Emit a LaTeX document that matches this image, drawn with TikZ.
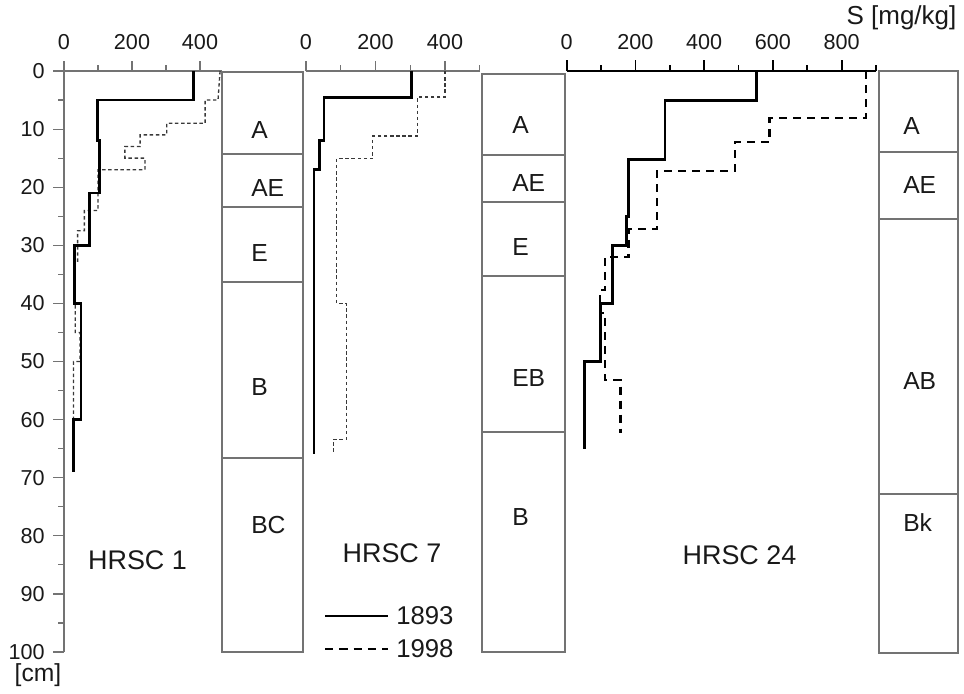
\documentclass[tikz,border=0pt]{standalone}
\usepackage{fontspec}
\setmainfont{Liberation Sans}
\definecolor{boxgrey}{gray}{0.45}
\definecolor{scalegrey}{gray}{0.45}
\definecolor{inkblack}{gray}{0.1}
\def\dep{5.81}
\tikzstyle{horizon}=[draw=boxgrey,line width=0.9pt]
\tikzstyle{hlabel}=[anchor=west,inner sep=0pt,text=inkblack,
                    font=\fontsize{18.5}{19}\selectfont]
\tikzstyle{scalelabel}=[inner sep=0pt,text=inkblack,
                    font=\fontsize{16.2}{17}\selectfont]
\tikzstyle{sitelabel}=[inner sep=0pt,text=inkblack,
                    font=\fontsize{20.2}{21}\selectfont]
\tikzstyle{scaleline}=[draw=scalegrey,line width=0.9pt]
\tikzstyle{line93}=[line width=2.1pt,black,line join=miter]
\tikzstyle{line98}=[line width=1pt,gray!45!black,dash pattern=on 2.6pt off 2pt]
\tikzstyle{line98b}=[line width=1.8pt,black,dash pattern=on 6pt off 4.5pt]

\begin{document}
\begin{tikzpicture}[x=0.75pt,y=-0.75pt]
  \useasboundingbox (0,0) rectangle (964,693);

  % Depth scale
  \draw[scaleline] (64,71) -- (64,652);
  \foreach \d in {0,10,...,100}{
    \draw[scaleline] (53,{71+\d*\dep}) -- (64,{71+\d*\dep});
    \node[scalelabel,anchor=east] (d\d) at (45,{71+\d*\dep}) {\d};
  }
  \foreach \d in {5,15,...,95}
    \draw[scaleline] (58,{71+\d*\dep}) -- (64,{71+\d*\dep});
  \node[sitelabel,font=\fontsize{18.5}{19}\selectfont] (cm) at (38,675) {[cm]};

  % S scale of HRSC 1
  \draw[scaleline] (53,71) -- (222,71);
  \foreach \s/\h in {0/10,100/6,200/10,300/6,400/10}
    \draw[scaleline] ({64+\s*0.34},71) -- ++(0,-\h);
  \foreach \s in {0,200,400}
    \node[scalelabel] (sa\s) at ({64+\s*0.34},42) {\s};

  % S scale of HRSC 7
  \draw[scaleline] (306,71) -- (480,71);
  \foreach \s/\h in {0/10,100/6,200/10,300/6,400/10,500/6}
    \draw[scaleline] ({306+\s*0.3475},71) -- ++(0,-\h);
  \foreach \s in {0,200,400}
    \node[scalelabel] (sb\s) at ({306+\s*0.3475},42) {\s};

  % S scale of HRSC 24
  \draw[line width=1.5pt,black] (566.7,71) -- (876,71);
  \foreach \s/\h in {0/11,100/6,200/11,300/6,400/11,500/6,600/11,700/6,800/11,900/6}
    \draw[line width=1.3pt,black] ({566.7+\s*0.3437},71) -- ++(0,-\h);
  \foreach \s in {0,200,...,800}
    \node[scalelabel] (sc\s) at ({566.7+\s*0.3437},42) {\s};
  \node[sitelabel,font=\fontsize{19.5}{20}\selectfont] (unit) at (901.5,18) {S [mg/kg]};

  % Horizons of HRSC 1
  \draw[horizon] (222,72) rectangle (303,652);
  \foreach \y in {154,207,282,458}
    \draw[horizon] (222,\y) -- (303,\y);
  \node[hlabel] (pa1) at (251,130) {A};
  \node[hlabel] (pa2) at (251,188) {AE};
  \node[hlabel] (pa3) at (251,253) {E};
  \node[hlabel] (pa4) at (251,387) {B};
  \node[hlabel] (pa5) at (251,525) {BC};

  % Horizons of HRSC 7
  \draw[horizon] (482,74) rectangle (565,652);
  \foreach \y in {155,202,276,432}
    \draw[horizon] (482,\y) -- (565,\y);
  \node[hlabel] (pb1) at (512,125) {A};
  \node[hlabel] (pb2) at (512,183) {AE};
  \node[hlabel] (pb3) at (512,247) {E};
  \node[hlabel] (pb4) at (512,378) {EB};
  \node[hlabel] (pb5) at (512,517) {B};

  % Horizons of HRSC 24
  \draw[horizon] (879,71) rectangle (958,653);
  \foreach \y in {152,219,494}
    \draw[horizon] (879,\y) -- (958,\y);
  \node[hlabel] (pc1) at (903,126) {A};
  \node[hlabel] (pc2) at (903,185) {AE};
  \node[hlabel] (pc3) at (903,381) {AB};
  \node[hlabel] (pc4) at (903,523) {Bk};

  % Profile HRSC 1
  \begin{scope}[shift={(64,71)},x=0.255pt,y=-4.3575pt]
    \draw[line98] (459,0) -- (453,5) -- (415,5) -- (415,9) -- (302,9) -- (302,11)
      -- (224,11) -- (224,13) -- (179,13) -- (179,15) -- (238,15) -- (238,17)
      -- (100,17) -- (100,24) -- (60,24) -- (60,27.5) -- (40,27.5) -- (40,33)
      -- (33,33) -- (33,45) -- (47,45) -- (47,50) -- (28,50) -- (28,60);
    \draw[line93] (382,0) -- (382,5) -- (98,5) -- (98,12) -- (104,12) -- (104,21)
      -- (75,21) -- (75,30) -- (32,30) -- (32,40) -- (50,40) -- (50,60)
      -- (28,60) -- (28,69);
  \end{scope}
  \node[sitelabel] (site1) at (137.5,560) {HRSC 1};

  % Profile HRSC 7
  \begin{scope}[shift={(306,71)},x=0.2606pt,y=-4.3575pt]
    \draw[line98] (400,0) -- (400,4.5) -- (320,4.5) -- (320,11.2) -- (192,11.2)
      -- (192,15.1) -- (88,15.1) -- (88,40) -- (117,40) -- (117,63.4)
      -- (79,63.4) -- (79,66);
    \draw[line93] (304,0) -- (304,4.6) -- (52,4.6) -- (52,12) -- (38,12)
      -- (38,17) -- (23,17) -- (23,66);
  \end{scope}
  \node[sitelabel] (site7) at (392,553) {HRSC 7};

  % Profile HRSC 24
  \begin{scope}[shift={(566.7,71)},x=0.2578pt,y=-4.3575pt]
    \draw[line98b] (870,0) -- (870,8.1) -- (590,8.1) -- (590,12.2) -- (490,12.2)
      -- (490,17.2) -- (262,17.2) -- (262,27.2) -- (180,27.2) -- (180,32)
      -- (111,32) -- (111,37.7) -- (97,37.7) -- (97,41.7) -- (111,41.7)
      -- (111,53.2) -- (157,53.2) -- (157,62.3);
    \draw[line93] (551,0) -- (551,5.1) -- (286,5.1) -- (286,15.2) -- (179,15.2)
      -- (179,25) -- (174,25) -- (174,30) -- (133,30) -- (133,40) -- (99,40)
      -- (99,50) -- (51,50) -- (51,65);
  \end{scope}
  \node[sitelabel] (site24) at (739.5,555) {HRSC 24};

  % Legend
  \coordinate (k1) at (325,616);
  \coordinate (k1e) at (388,616);
  \coordinate (k2) at (325,649);
  \coordinate (k2e) at (388,649);
  \node[sitelabel,anchor=west,font=\fontsize{19.3}{20}\selectfont] (y93) at (396,616) {1893};
  \node[sitelabel,anchor=west,font=\fontsize{19.3}{20}\selectfont] (y98) at (396,649) {1998};
  \draw[line width=1.2pt,black] (k1) -- (k1e);
  \draw[line width=1.1pt,black,dash pattern=on 6.2pt off 4.5pt] (k2) -- (k2e);
\end{tikzpicture}
\end{document}
